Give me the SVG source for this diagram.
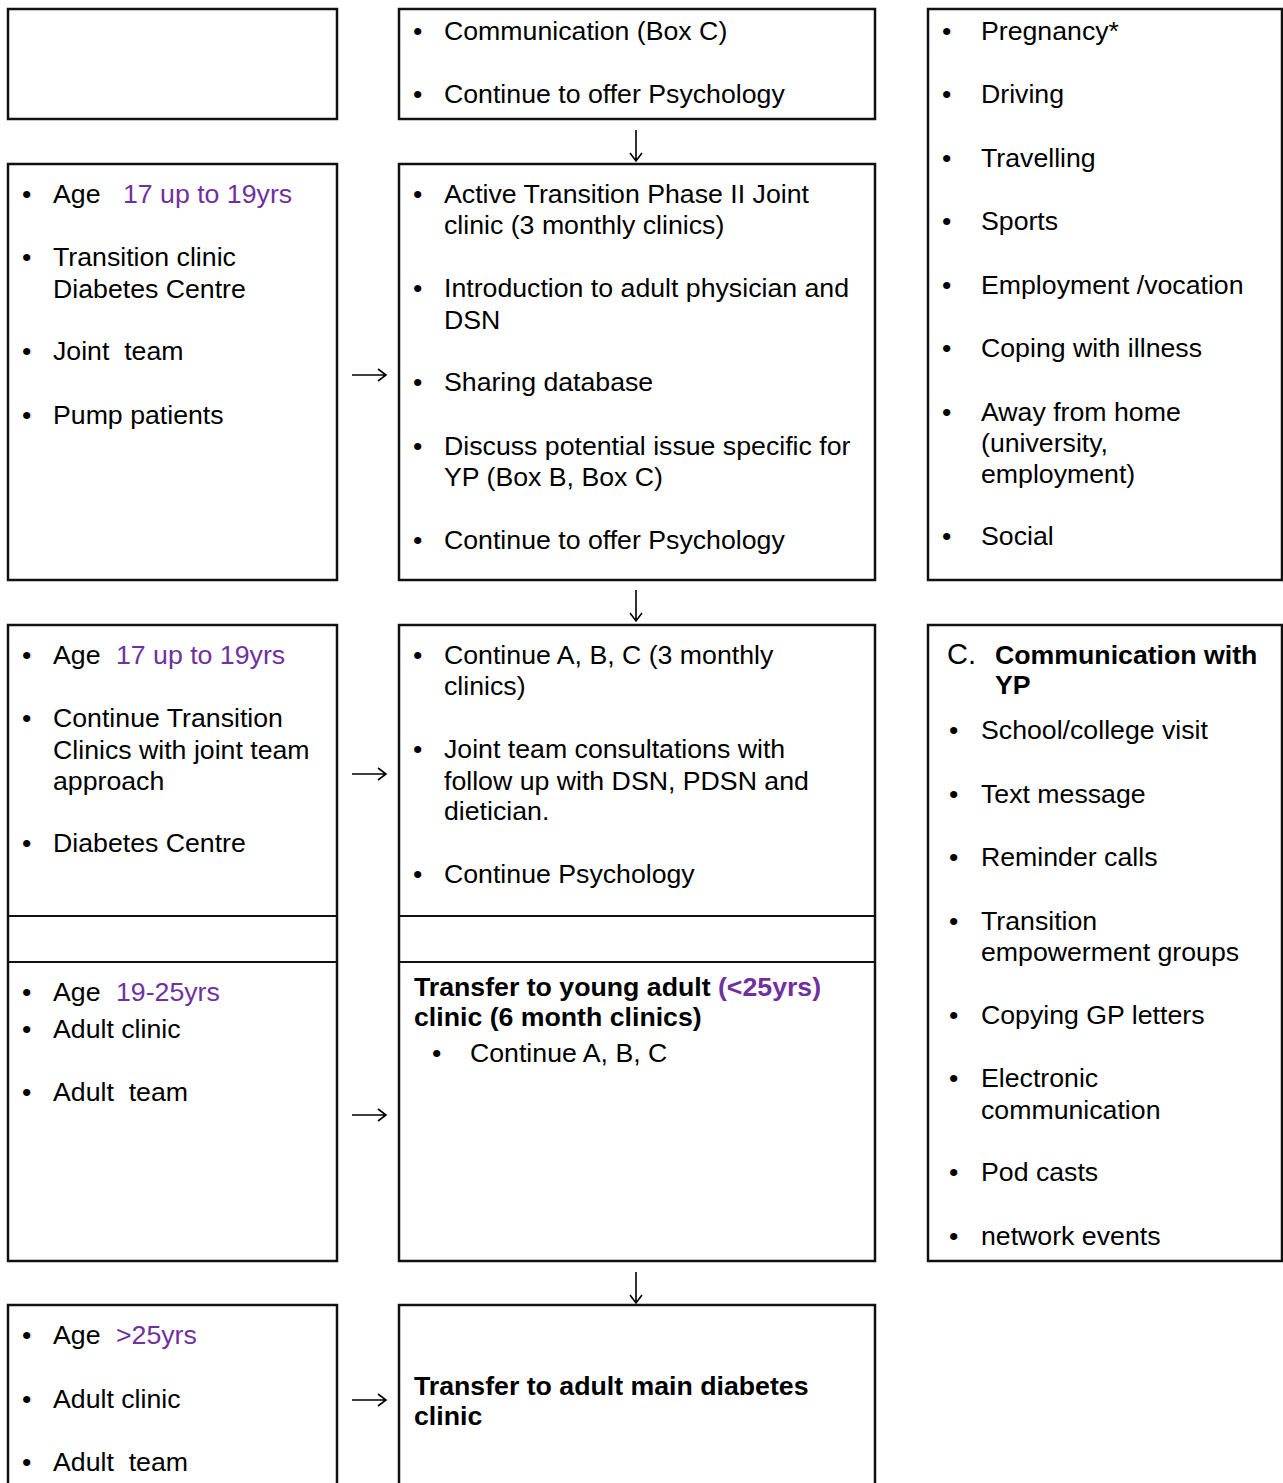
<svg xmlns="http://www.w3.org/2000/svg" width="1283" height="1483" viewBox="0 0 1283 1483">
<style>
.box{fill:#fff;stroke:#111;stroke-width:2.5}
.sep{stroke:#111;stroke-width:2}
text{font-family:"Liberation Sans",Arial,sans-serif;font-size:26.7px;fill:#000}
.b{font-weight:bold}
.p{fill:#7030A0}
.arr{stroke:#000;stroke-width:1.6;fill:none}
</style>
<rect width="1283" height="1483" fill="#fff"/>
<g id="connectors">
<path class="arr" d="M636 130V161M630 153L636 161L642 153"/>
<path class="arr" d="M636 590V621M630 613L636 621L642 613"/>
<path class="arr" d="M636 928V959M630 951L636 959L642 951"/>
<path class="arr" d="M636 1272V1303M630 1295L636 1303L642 1295"/>
<path class="arr" d="M352 375H386M378 369L386 375L378 381"/>
<path class="arr" d="M352 774H386M378 768L386 774L378 780"/>
<path class="arr" d="M352 1115H386M378 1109L386 1115L378 1121"/>
<path class="arr" d="M352 1400H386M378 1394L386 1400L378 1406"/>
</g>
<g id="boxL1"><rect class="box" x="8" y="9" width="329" height="110"/></g>
<g id="boxM1"><rect class="box" x="399" y="9" width="476" height="110"/>
<text x="413" y="40">•</text><text x="444" y="40">Communication (Box C)</text>
<text x="413" y="103">•</text><text x="444" y="103">Continue to offer Psychology</text>
</g>
<g id="boxR1"><rect class="box" x="928" y="9" width="354" height="571"/>
<text x="942" y="40">•</text><text x="981" y="40">Pregnancy*</text>
<text x="942" y="103">•</text><text x="981" y="103">Driving</text>
<text x="942" y="167">•</text><text x="981" y="167">Travelling</text>
<text x="942" y="230">•</text><text x="981" y="230">Sports</text>
<text x="942" y="294">•</text><text x="981" y="294">Employment /vocation</text>
<text x="942" y="357">•</text><text x="981" y="357">Coping with illness</text>
<text x="942" y="421">•</text><text x="981" y="421">Away from home</text>
<text x="981" y="452">(university,</text>
<text x="981" y="483">employment)</text>
<text x="942" y="545">•</text><text x="981" y="545">Social</text>
</g>
<g id="boxL2"><rect class="box" x="8" y="164" width="329" height="416"/>
<text x="22" y="203">•</text><text x="53" y="203">Age</text><text class="p" x="123" y="203">17 up to 19yrs</text>
<text x="22" y="266">•</text><text x="53" y="266">Transition clinic</text>
<text x="53" y="298">Diabetes Centre</text>
<text x="22" y="360">•</text><text x="53" y="360" xml:space="preserve">Joint  team</text>
<text x="22" y="424">•</text><text x="53" y="424">Pump patients</text>
</g>
<g id="boxM2"><rect class="box" x="399" y="164" width="476" height="416"/>
<text x="413" y="203">•</text><text x="444" y="203">Active Transition Phase II Joint</text>
<text x="444" y="234">clinic (3 monthly clinics)</text>
<text x="413" y="297">•</text><text x="444" y="297">Introduction to adult physician and</text>
<text x="444" y="329">DSN</text>
<text x="413" y="391">•</text><text x="444" y="391">Sharing database</text>
<text x="413" y="455">•</text><text x="444" y="455">Discuss potential issue specific for</text>
<text x="444" y="486">YP (Box B, Box C)</text>
<text x="413" y="549">•</text><text x="444" y="549">Continue to offer Psychology</text>
</g>
<g id="boxL3"><rect class="box" x="8" y="625" width="329" height="636"/>
<line class="sep" x1="8" y1="916" x2="337" y2="916"/>
<line class="sep" x1="8" y1="962" x2="337" y2="962"/>
<text x="22" y="664">•</text><text x="53" y="664">Age</text><text class="p" x="116" y="664">17 up to 19yrs</text>
<text x="22" y="727">•</text><text x="53" y="727">Continue Transition</text>
<text x="53" y="759">Clinics with joint team</text>
<text x="53" y="790">approach</text>
<text x="22" y="852">•</text><text x="53" y="852">Diabetes Centre</text>
<text x="22" y="1001">•</text><text x="53" y="1001">Age</text><text class="p" x="116" y="1001">19-25yrs</text>
<text x="22" y="1038">•</text><text x="53" y="1038">Adult clinic</text>
<text x="22" y="1101">•</text><text x="53" y="1101" xml:space="preserve">Adult  team</text>
</g>
<g id="boxM3"><rect class="box" x="399" y="625" width="476" height="636"/>
<line class="sep" x1="399" y1="916" x2="875" y2="916"/>
<line class="sep" x1="399" y1="962" x2="875" y2="962"/>
<text x="413" y="664">•</text><text x="444" y="664">Continue A, B, C (3 monthly</text>
<text x="444" y="695">clinics)</text>
<text x="413" y="758">•</text><text x="444" y="758">Joint team consultations with</text>
<text x="444" y="790">follow up with DSN, PDSN and</text>
<text x="444" y="820">dietician.</text>
<text x="413" y="883">•</text><text x="444" y="883">Continue Psychology</text>
<text class="b" x="414" y="996">Transfer to young adult <tspan class="p">(&lt;25yrs)</tspan></text>
<text class="b" x="414" y="1026">clinic (6 month clinics)</text>
<text x="432" y="1062">•</text><text x="470" y="1062">Continue A, B, C</text>
</g>
<g id="boxC"><rect class="box" x="928" y="625" width="354" height="636"/>
<text x="947" y="664" style="font-size:29px">C.</text>
<text class="b" x="995" y="664">Communication with</text>
<text class="b" x="995" y="694">YP</text>
<text x="949" y="739">•</text><text x="981" y="739">School/college visit</text>
<text x="949" y="803">•</text><text x="981" y="803">Text message</text>
<text x="949" y="866">•</text><text x="981" y="866">Reminder calls</text>
<text x="949" y="930">•</text><text x="981" y="930">Transition</text>
<text x="981" y="961">empowerment groups</text>
<text x="949" y="1024">•</text><text x="981" y="1024">Copying GP letters</text>
<text x="949" y="1087">•</text><text x="981" y="1087">Electronic</text>
<text x="981" y="1119">communication</text>
<text x="949" y="1181">•</text><text x="981" y="1181">Pod casts</text>
<text x="949" y="1245">•</text><text x="981" y="1245">network events</text>
</g>
<g id="boxL4"><rect class="box" x="8" y="1305" width="329" height="200"/>
<text x="22" y="1344">•</text><text x="53" y="1344">Age</text><text class="p" x="116" y="1344">&gt;25yrs</text>
<text x="22" y="1408">•</text><text x="53" y="1408">Adult clinic</text>
<text x="22" y="1471">•</text><text x="53" y="1471" xml:space="preserve">Adult  team</text>
</g>
<g id="boxM4"><rect class="box" x="399" y="1305" width="476" height="200"/>
<text class="b" x="414" y="1395">Transfer to adult main diabetes</text>
<text class="b" x="414" y="1425">clinic</text>
</g>
</svg>
